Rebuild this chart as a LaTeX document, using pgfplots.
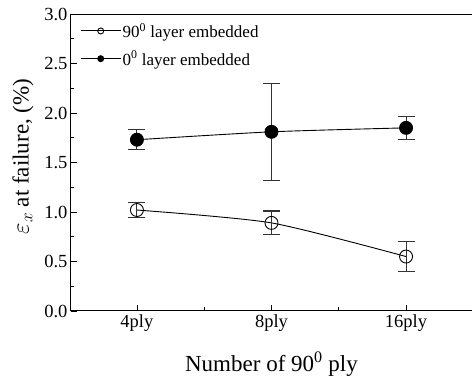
\documentclass[border=0pt]{standalone}
\usepackage{pgfplots}
\pgfplotsset{compat=1.18}
\usepackage{fontspec}
\setmainfont{Liberation Serif}

% strain at failure (%) with error half-widths; x: 0=4ply, 1=8ply, 2=16ply
\begin{document}
\begin{tikzpicture}
\begin{axis}[
  scale only axis,
  width=401pt, height=297pt,
  xmin=-0.49, xmax=2.49,
  ymin=0, ymax=3,
  axis x line=box, axis y line=left,
  axis line style={-, line width=1pt},
  xtick={0,1,2},
  xticklabels={4ply,8ply,16ply},
  xtick pos=bottom, ytick pos=left,
  minor x tick num=1,
  ytick={0,0.5,...,3.0},
  minor y tick num=1,
  tick align=inside,
  major tick length=6pt, minor tick length=3.5pt,
  tick style={black, line width=0.8pt},
  /pgf/number format/assume math mode=true,
  /pgf/number format/fixed, /pgf/number format/fixed zerofill,
  /pgf/number format/precision=1,
  ticklabel style={font=\fontsize{18.5}{20}\selectfont},
  xlabel={Number of 90\textsuperscript{0} ply},
  ylabel={$\varepsilon_x$ at failure, (\%)},
  label style={font=\fontsize{23}{26}\selectfont},
  xlabel style={yshift=-14pt},
  ylabel style={at={(ticklabel cs:0.52)}, yshift=4pt},
  legend style={draw=none, fill=none, at={(rel axis cs:0.02,0.98)}, anchor=north west,
    font=\fontsize{17}{20}\selectfont, row sep=8pt, inner sep=1pt,
    nodes={inner xsep=1.5pt}},
  legend cell align=left,
  legend image code/.code={
    \draw[black, line width=1pt] (0pt,0pt) -- (40pt,0pt);
    \draw[#1, mark size=3pt, line width=0.9pt]
      plot coordinates {(20pt,0pt)};},
  clip=false,
]
\addplot[black, line width=0.9pt, smooth, tension=0.4,
  mark=o, mark size=6.5pt, mark options={fill=white, line width=0.9pt},
  error bars/.cd, y dir=both, y explicit,
  error bar style={line width=1.1pt, black!80},
  error mark options={rotate=90, mark size=8.5pt, line width=1.1pt, black!80}]
  coordinates {
  (0,1.02) +- (0,0.075)
  (1,0.89) +- (0,0.12)
  (2,0.55) +- (0,0.15)
};
\addlegendentry{90\textsuperscript{0} layer embedded}
\addplot[black, line width=0.9pt, smooth, tension=0.4,
  mark=*, mark size=6.5pt, mark options={fill=black},
  error bars/.cd, y dir=both, y explicit,
  error bar style={line width=1.1pt, black!80},
  error mark options={rotate=90, mark size=8.5pt, line width=1.1pt, black!80}]
  coordinates {
  (0,1.73) +- (0,0.10)
  (1,1.81) +- (0,0.49)
  (2,1.85) +- (0,0.115)
};
\addlegendentry{0\textsuperscript{0} layer embedded}
\coordinate (bl) at (rel axis cs:0,0);
\coordinate (tr) at (rel axis cs:1,1);
\end{axis}
\pgfresetboundingbox
\path ([shift={(-71pt,-69pt)}]bl) rectangle ([shift={(0pt,14pt)}]tr);
\end{tikzpicture}
\end{document}
